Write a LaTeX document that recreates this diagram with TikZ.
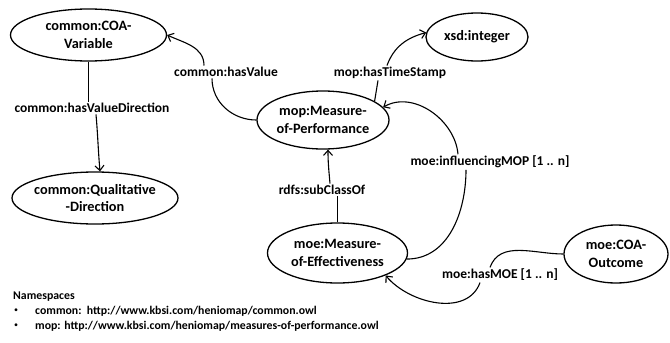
\documentclass[tikz,border=0pt]{standalone}
\usepackage{fontspec}
\setmainfont{Carlito}
\usetikzlibrary{shapes.geometric,arrows.meta}
\begin{document}
\begin{tikzpicture}[x=1pt,y=1pt,
  concept/.style={ellipse,draw,line width=1.3pt,inner sep=-12pt,align=center,
    font=\bfseries\fontsize{14.3}{17.5}\selectfont},
  rel/.style={inner sep=1.5pt,font=\bfseries\fontsize{13.5}{16}\selectfont},
  ns/.style={inner sep=0pt,anchor=west,font=\bfseries\fontsize{11.8}{14}\selectfont},
  dot/.style={inner sep=0pt,font=\fontsize{8}{10}\selectfont},
  link/.style={line width=1.1pt},
  arrowlink/.style={link,-{Straight Barb[length=5pt,width=9pt]}}]
\useasboundingbox (0,0) rectangle (670,-343);

% concepts
\node[concept,minimum width=156pt,minimum height=52pt] (cv)  at (88.5,-35)  {common:COA-\\Variable};
\node[concept,minimum width=102pt,minimum height=48pt] (xsd) at (477,-37)   {xsd:integer};
\node[concept,minimum width=132pt,minimum height=58pt] (mop) at (323,-120)  {mop:Measure-\\of-Performance};
\node[concept,minimum width=166pt,minimum height=52pt] (qd)  at (95,-198)   {common:Qualitative\\-Direction};
\node[concept,minimum width=140pt,minimum height=60pt] (moe) at (337.5,-253){moe:Measure-\\of-Effectiveness};
\node[concept,minimum width=104pt,minimum height=58pt] (out) at (616,-254)  {moe:COA-\\Outcome};

% relation labels
\node[rel] (hv)  at (226,-72)  {common:hasValue};
\node[rel] (hvd) at (92,-108)  {common:hasValueDirection};
\node[rel] (ts)  at (390,-73)  {mop:hasTimeStamp};
\node[rel] (inf) at (490,-162) {moe:influencingMOP [1 .. n]};
\node[rel] (sc)  at (322,-190) {rdfs:subClassOf};
\node[rel] (hm)  at (500,-275) {moe:hasMOE [1 .. n]};

% common:hasValue
\draw[link] (mop.west) to[out=180,in=-90] ([xshift=-14pt]hv.south);
\draw[arrowlink] ([xshift=-22pt]hv.north) to[out=90,in=-25] (cv.east);

% common:hasValueDirection
\draw[link] (cv.south) -- (cv.south |- hvd.north);
\draw[arrowlink] ([xshift=4pt]hvd.south) to[out=-85,in=95] ([xshift=5pt]qd.north);

% mop:hasTimeStamp
\draw[link] (mop.20) -- ([xshift=-12pt]ts.south);
\draw[arrowlink] ([xshift=-3pt]ts.north) to[out=70,in=195] (xsd.175);

% moe:influencingMOP
\draw[arrowlink] ([xshift=-32pt]inf.north) to[out=95,in=30] (mop.12);
\draw[link] ([xshift=-24pt]inf.south) to[out=-90,in=0] (moe.-5);

% rdfs:subClassOf
\draw[arrowlink] ([xshift=8pt]sc.north) to[out=95,in=-90] ([xshift=5pt]mop.south);
\draw[link] (moe.north) -- (moe.north |- sc.south);

% moe:hasMOE
\draw[link] (out.west) to[out=180,in=70] ([xshift=-10pt]hm.north);
\draw[arrowlink] ([xshift=-20pt]hm.south) to[out=-110,in=-50] (moe.-25);

% namespace legend
\node[ns] (nsh) at (13,-297) {Namespaces};
\node[dot] (b1) at (16,-311) {\textbullet};
\node[ns] (n1)  at (35,-311) {common:\ \ http://www.kbsi.com/heniomap/common.owl};
\node[dot] (b2) at (16,-326) {\textbullet};
\node[ns] (n2)  at (35,-326) {mop: http://www.kbsi.com/heniomap/measures-of-performance.owl};
\end{tikzpicture}
\end{document}
